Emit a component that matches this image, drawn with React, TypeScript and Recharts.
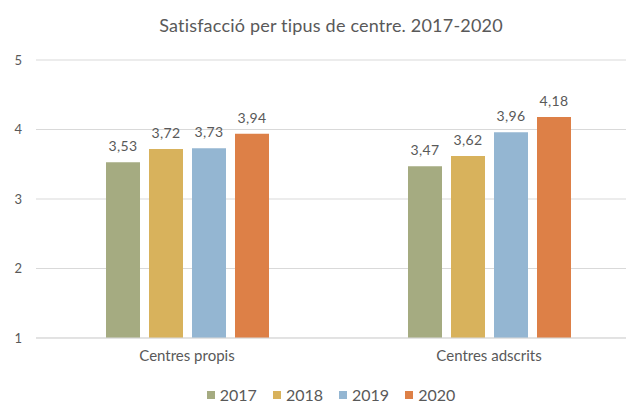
import React from 'react'
import { BarChart, Bar, XAxis, YAxis, CartesianGrid, Legend, LabelList } from 'recharts'

const categories = ['Centres propis', 'Centres adscrits']
const years = ['2017', '2018', '2019', '2020']
const values2017 = [3.53, 3.47]
const values2018 = [3.72, 3.62]
const values2019 = [3.73, 3.96]
const values2020 = [3.94, 4.18]
const yTicks = [1, 2, 3, 4, 5]

const colors = ['#A5AB81', '#D8B25C', '#94B6D2', '#DD8047']
const seriesValues = [values2017, values2018, values2019, values2020]

const data = categories.map((name, i) => {
  const row: Record<string, string | number> = { name }
  years.forEach((y, k) => {
    row[y] = seriesValues[k][i]
  })
  return row
})

const font = 'Lato, "DejaVu Sans", sans-serif'
const textColor = '#595959'

const fmt = (v: number) => v.toFixed(2).replace('.', ',')

function LegendContent() {
  return (
    <div style={{ display: 'flex', justifyContent: 'center', fontFamily: font, fontSize: 16, color: textColor }}>
      {years.map((y, k) => (
        <div key={y} style={{ display: 'flex', alignItems: 'center', marginRight: k < 3 ? 16 : 0 }}>
          <span style={{ width: 8, height: 8, background: colors[k], display: 'inline-block', marginRight: 5 }} />
          <span>{y}</span>
        </div>
      ))}
    </div>
  )
}

export default function App() {
  return (
    <div style={{ position: 'absolute', top: 0, left: 0, width: 626, height: 406, overflow: 'hidden', background: '#fff' }}>
      <div
        style={{
          position: 'absolute',
          top: 14,
          left: 0,
          width: 662,
          textAlign: 'center',
          fontFamily: font,
          fontSize: 18,
          lineHeight: '22px',
          letterSpacing: 0.2,
          color: textColor
        }}
      >
        Satisfacció per tipus de centre. 2017-2020
      </div>
      <BarChart
        width={662}
        height={406}
        data={data}
        margin={{ top: 60, right: 22, bottom: 38, left: 0 }}
        barGap={9}
        barSize={34}
      >
        <CartesianGrid vertical={false} stroke="#D9D9D9" />
        <XAxis
          dataKey="name"
          axisLine={{ stroke: '#D9D9D9' }}
          tickLine={false}
          tickSize={0}
          tickMargin={12}
          height={30}
          tick={{ fontSize: 15, fill: textColor, fontFamily: font }}
        />
        <YAxis
          domain={[1, 5]}
          ticks={yTicks}
          width={36}
          axisLine={false}
          tickLine={false}
          tickSize={0}
          tickMargin={14}
          tick={{ fontSize: 13, fill: textColor, fontFamily: font }}
        />
        <Legend
          layout="horizontal"
          verticalAlign="middle"
          align="center"
          content={LegendContent}
          wrapperStyle={{ top: 385, left: 0, width: 662 }}
        />
        {years.map((y, k) => (
          <Bar key={y} dataKey={y} fill={colors[k]} isAnimationActive={false}>
            <LabelList
              dataKey={y}
              position="top"
              offset={11}
              formatter={(v: number) => fmt(v)}
              style={{ fontSize: 14, fill: textColor, fontFamily: font, letterSpacing: 0.4 }}
            />
          </Bar>
        ))}
      </BarChart>
    </div>
  )
}
